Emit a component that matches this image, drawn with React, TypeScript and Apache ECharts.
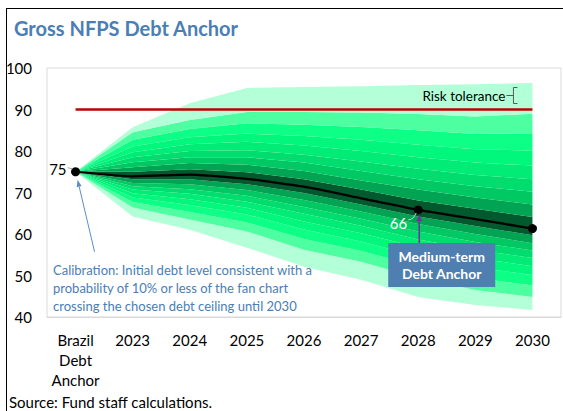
import React, { useEffect, useRef } from "react";
import * as echarts from "echarts";

const categories = ["Brazil\nDebt\nAnchor", "2023", "2024", "2025", "2026", "2027", "2028", "2029", "2030"];

// Fan chart percentiles (gross NFPS debt, % of GDP)
const p5 = [75, 64.2, 61.0, 56.7, 52.1, 49.0, 44.8, 42.9, 41.7];
const p10 = [75, 66.4, 63.5, 60.6, 56.2, 53.3, 49.4, 46.5, 44.8];
const p15 = [75, 67.7, 65.3, 62.8, 58.8, 55.9, 52.2, 49.4, 47.6];
const p20 = [75, 68.8, 67.0, 64.7, 61.1, 58.2, 54.6, 52.0, 50.1];
const p25 = [75, 69.8, 68.4, 66.3, 63.0, 60.2, 56.8, 54.2, 52.2];
const p30 = [75, 70.7, 69.7, 67.8, 64.9, 62.0, 58.7, 56.2, 54.2];
const p35 = [75, 71.5, 70.8, 69.2, 66.5, 63.7, 60.6, 58.1, 56.0];
const p40 = [75, 72.3, 72.0, 70.6, 68.2, 65.4, 62.4, 60.0, 57.8];
const p45 = [75, 73.2, 73.2, 72.0, 69.9, 67.1, 64.2, 61.9, 59.7];
const median = [75, 73.9, 74.3, 73.3, 71.4, 68.6, 65.8, 63.6, 61.3];
const p55 = [75, 75.0, 75.6, 74.9, 73.2, 70.7, 68.1, 66.1, 64.1];
const p60 = [75, 76.1, 77.1, 76.7, 75.2, 72.9, 70.7, 68.8, 67.1];
const p65 = [75, 77.3, 78.5, 78.5, 77.2, 75.2, 73.2, 71.5, 70.2];
const p70 = [75, 78.5, 80.0, 80.2, 79.1, 77.5, 75.7, 74.2, 73.2];
const p75 = [75, 79.7, 81.6, 82.2, 81.3, 80.0, 78.5, 77.2, 76.5];
const p80 = [75, 81.1, 83.3, 84.2, 83.6, 82.7, 81.5, 80.4, 80.1];
const p85 = [75, 82.7, 85.3, 86.7, 86.3, 85.8, 85.0, 84.1, 84.3];
const p90 = [75, 84.5, 87.5, 89.4, 89.4, 89.3, 88.9, 88.3, 89.0];
const p95 = [75, 85.7, 91.5, 95.2, 95.4, 95.6, 95.9, 96.1, 96.4];

const riskTolerance = [90, 90, 90, 90, 90, 90, 90, 90, 90];
const anchorIndex = 6; // 2028
const startLabel = "75";
const anchorLabel = "66";

const Y_MIN = 40;
const Y_MAX = 100;
const Y_INTERVAL = 10;

// lightest (outer) to darkest (inner)
const bandPalette = [
  "#b3ffd7",
  "#4dffa1",
  "#0dff85",
  "#00f77c",
  "#00ec76",
  "#00dd6e",
  "#00c964",
  "#00a452",
  "#005a2d",
];

const FONT = "Lato";
const BLUE = "#4a7eb4";

function arrow(x1: number, y1: number, x2: number, y2: number, color: string, w: number, hl: number, hw: number) {
  const dx = x2 - x1;
  const dy = y2 - y1;
  const len = Math.sqrt(dx * dx + dy * dy);
  const ux = dx / len;
  const uy = dy / len;
  const bx = x2 - ux * hl;
  const by = y2 - uy * hl;
  const nx = -uy;
  const ny = ux;
  return [
    { type: "line", silent: true, z: 100, shape: { x1, y1, x2: bx, y2: by }, style: { stroke: color, lineWidth: w } },
    {
      type: "polygon",
      silent: true,
      z: 100,
      shape: { points: [[x2, y2], [bx + (nx * hw) / 2, by + (ny * hw) / 2], [bx - (nx * hw) / 2, by - (ny * hw) / 2]] },
      style: { fill: color },
    },
  ];
}

export default function App() {
  const ref = useRef<HTMLDivElement>(null);

  useEffect(() => {
    if (!ref.current) return;
    const chart = echarts.init(ref.current, undefined, { renderer: "svg" });

    const pcts = [p5, p10, p15, p20, p25, p30, p35, p40, p45, median, p55, p60, p65, p70, p75, p80, p85, p90, p95];
    const fanSeries: any[] = [
      {
        type: "line",
        stack: "fan",
        data: p5,
        symbol: "none",
        lineStyle: { width: 0, opacity: 0 },
        silent: true,
      },
    ];
    for (let i = 1; i < pcts.length; i++) {
      const k = i - 1;
      const ci = k < 9 ? k : 17 - k;
      fanSeries.push({
        type: "line",
        stack: "fan",
        data: pcts[i].map((v, j) => +(v - pcts[i - 1][j]).toFixed(3)),
        symbol: "none",
        lineStyle: { width: 0, opacity: 0 },
        areaStyle: { color: bandPalette[ci], opacity: 1 },
        silent: true,
      });
    }

    const medianData = median.map((v, i) => {
      const dot = i === 0 || i === anchorIndex || i === median.length - 1;
      return { value: v, symbol: dot ? "circle" : "none", symbolSize: dot ? 9 : 0 };
    });

    chart.setOption({
      animation: false,
      textStyle: { fontFamily: FONT },
      grid: { left: 47, right: 2, top: 68, bottom: 94, show: true, borderColor: "#d9d9d9", borderWidth: 1 },
      xAxis: {
        type: "category",
        data: categories,
        boundaryGap: true,
        axisLine: { lineStyle: { color: "#d9d9d9" } },
        axisTick: { alignWithLabel: true, inside: true, length: 4, lineStyle: { color: "#d9d9d9" } },
        axisLabel: { interval: 0, color: "#000", fontSize: 15, margin: 13, lineHeight: 20, fontFamily: FONT },
      },
      yAxis: {
        type: "value",
        min: Y_MIN,
        max: Y_MAX,
        interval: Y_INTERVAL,
        splitLine: { show: false },
        axisLine: { show: false },
        axisTick: { show: false },
        axisLabel: { color: "#000", fontSize: 15, margin: 15, fontFamily: FONT },
      },
      series: [
        ...fanSeries,
        {
          type: "line",
          data: riskTolerance,
          symbol: "none",
          lineStyle: { color: "#c00000", width: 2.5 },
          silent: true,
          z: 5,
        },
        {
          type: "line",
          data: medianData,
          showAllSymbol: true,
          itemStyle: { color: "#000" },
          lineStyle: { color: "#000", width: 2.25 },
          smooth: 0.15,
          silent: true,
          z: 6,
        },
      ],
    });

    const pt = (i: number, v: number) => chart.convertToPixel({ xAxisIndex: 0, yAxisIndex: 0 }, [i, v]) as number[];
    const s = pt(0, median[0]);
    const a = pt(anchorIndex, median[anchorIndex]);
    const r = pt(median.length - 1, riskTolerance[riskTolerance.length - 1]);

    const graphics: any[] = [
      // outer frame
      { type: "line", silent: true, shape: { x1: 6, y1: 8.5, x2: 563, y2: 8.5 }, style: { stroke: "#000", lineWidth: 1 } },
      { type: "line", silent: true, shape: { x1: 6.5, y1: 8, x2: 6.5, y2: 411 }, style: { stroke: "#000", lineWidth: 1 } },
      {
        type: "text",
        left: 14,
        top: 18,
        style: { text: "Gross NFPS Debt Anchor", fill: BLUE, font: `bold 20px ${FONT}` },
      },
      {
        type: "text",
        left: 9,
        top: 394,
        style: { text: "Source: Fund staff calculations.", fill: "#000", font: `15px ${FONT}` },
      },
      // 75 label
      {
        type: "text",
        x: s[0] - 9,
        y: s[1] - 3,
        z: 100,
        style: { text: startLabel, fill: "#000", font: `15px ${FONT}`, align: "right", verticalAlign: "middle" },
      },
      { type: "line", z: 100, silent: true, shape: { x1: s[0] - 8, y1: s[1] - 4, x2: s[0] - 3, y2: s[1] - 3 }, style: { stroke: "#a6a6a6", lineWidth: 1 } },
      // 66 label
      {
        type: "text",
        x: a[0] - 11,
        y: a[1] + 13,
        z: 100,
        style: { text: anchorLabel, fill: "#fff", font: `15px ${FONT}`, align: "right", verticalAlign: "middle" },
      },
      {
        type: "bezierCurve",
        z: 100,
        silent: true,
        shape: { x1: a[0] - 10, y1: a[1] + 10, x2: a[0] - 2, y2: a[1] + 3, cpx1: a[0] - 5, cpy1: a[1] + 10 },
        style: { stroke: "#d0d0d0", lineWidth: 1, fill: "none" },
      },
      ...arrow(a[0] + 1, a[1] + 33, a[0] + 1, a[1] + 5, "#7030a0", 1.5, 6, 6),
      // anchor box
      {
        type: "rect",
        z: 100,
        silent: true,
        shape: { x: a[0] - 30, y: a[1] + 33, width: 107, height: 44 },
        style: { fill: "#4f7fb0" },
      },
      {
        type: "text",
        z: 101,
        x: a[0] + 23.5,
        y: a[1] + 55,
        style: {
          text: "Medium-term\nDebt Anchor",
          fill: "#fff",
          font: `bold 14px ${FONT}`,
          lineHeight: 17,
          align: "center",
          verticalAlign: "middle",
        },
      },
      // risk tolerance
      {
        type: "text",
        z: 100,
        x: r[0] - 27,
        y: r[1] - 14,
        style: { text: "Risk tolerance", fill: "#000", font: `13.5px ${FONT}`, align: "right", verticalAlign: "middle" },
      },
      { type: "line", z: 100, silent: true, shape: { x1: r[0] - 26, y1: r[1] - 14, x2: r[0] - 19, y2: r[1] - 14 }, style: { stroke: "#595959", lineWidth: 1 } },
      {
        type: "polyline",
        z: 100,
        silent: true,
        shape: { points: [[r[0] - 15, r[1] - 22], [r[0] - 19, r[1] - 22], [r[0] - 19, r[1] - 6], [r[0] - 15, r[1] - 6]] },
        style: { stroke: "#595959", lineWidth: 1, fill: "none" },
      },
      // calibration note
      ...arrow(s[0] + 19, s[1] + 80, s[0] + 2, s[1] + 8, "#5b8ec6", 1, 7, 5),
      {
        type: "text",
        z: 100,
        left: 53,
        top: 261,
        style: {
          text: "Calibration: Initial debt level consistent with a\nprobability of 10% or less of the fan chart\ncrossing the chosen debt ceiling until 2030",
          fill: BLUE,
          font: `13px ${FONT}`,
          lineHeight: 18,
        },
      },
    ];

    chart.setOption({ graphic: graphics });

    return () => chart.dispose();
  }, []);

  return <div ref={ref} style={{ position: "absolute", left: 0, top: 0, width: 563, height: 411, background: "#fff" }} />;
}
